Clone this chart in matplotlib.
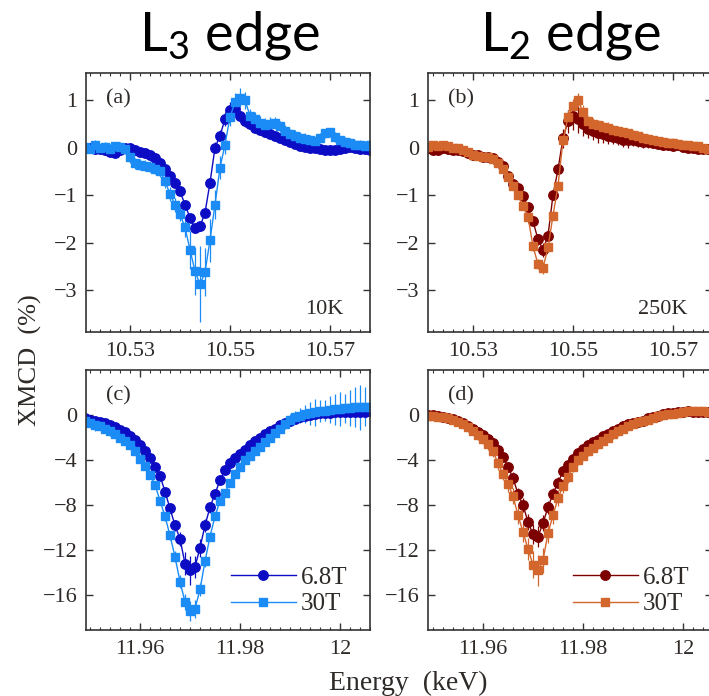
import matplotlib
matplotlib.use("Agg")
import matplotlib.pyplot as plt
from matplotlib.lines import Line2D
from matplotlib.ticker import MultipleLocator

plt.rcParams["font.family"] = ["Liberation Serif", "DejaVu Serif"]
plt.rcParams["mathtext.default"] = "regular"

# ---------------- data ----------------
# L3 edge, energies (keV)
energy_l3 = [10.521, 10.522, 10.523, 10.524, 10.525, 10.526, 10.527, 10.528, 10.529, 10.530,
             10.531, 10.532, 10.533, 10.534, 10.535, 10.536, 10.537, 10.538, 10.539, 10.540,
             10.541, 10.542, 10.543, 10.544, 10.545, 10.546, 10.547, 10.548, 10.549, 10.550,
             10.551, 10.552, 10.553, 10.554, 10.555, 10.556, 10.557, 10.558, 10.559, 10.560,
             10.561, 10.562, 10.563, 10.564, 10.565, 10.566, 10.567, 10.568, 10.569, 10.570,
             10.571, 10.572, 10.573, 10.574, 10.575, 10.576, 10.577, 10.578]
xmcd_l3_68T = [0.00, 0.00, -0.02, -0.02, -0.06, -0.10, -0.12, -0.06, -0.01, 0.00,
               -0.05, -0.09, -0.11, -0.15, -0.22, -0.32, -0.45, -0.59, -0.74, -0.92,
               -1.20, -1.48, -1.70, -1.66, -1.37, -0.74, 0.00, 0.25, 0.60, 0.80,
               0.82, 0.66, 0.56, 0.49, 0.42, 0.37, 0.32, 0.28, 0.24, 0.20,
               0.15, 0.11, 0.07, 0.04, 0.02, 0.00, -0.01, -0.03, -0.04, -0.04,
               -0.05, -0.03, -0.01, 0.01, 0.00, -0.03, -0.02, -0.05]
err_l3_68T = [0.05, 0.05, 0.05, 0.05, 0.05, 0.05, 0.05, 0.05, 0.05, 0.05,
              0.05, 0.05, 0.05, 0.05, 0.05, 0.06, 0.06, 0.06, 0.07, 0.07,
              0.08, 0.08, 0.10, 0.10, 0.10, 0.10, 0.12, 0.12, 0.15, 0.15,
              0.15, 0.12, 0.12, 0.10, 0.10, 0.10, 0.10, 0.08, 0.08, 0.08,
              0.08, 0.08, 0.07, 0.07, 0.06, 0.06, 0.06, 0.06, 0.06, 0.06,
              0.06, 0.06, 0.06, 0.06, 0.06, 0.06, 0.06, 0.06]
xmcd_l3_30T = [0.02, -0.02, 0.05, 0.00, 0.02, -0.02, 0.03, 0.01, -0.03, -0.20,
               -0.33, -0.36, -0.38, -0.40, -0.44, -0.50, -0.70, -0.98, -1.20, -1.40,
               -1.68, -2.15, -2.60, -2.88, -2.62, -1.95, -1.20, -0.42, 0.06, 0.65,
               0.95, 1.05, 1.00, 0.67, 0.60, 0.52, 0.47, 0.50, 0.52, 0.45,
               0.36, 0.28, 0.25, 0.20, 0.18, 0.15, 0.13, 0.20, 0.30, 0.32,
               0.22, 0.15, 0.12, 0.10, 0.06, 0.06, 0.03, 0.05]
err_l3_30T = [0.08, 0.10, 0.10, 0.08, 0.10, 0.10, 0.08, 0.10, 0.10, 0.12,
              0.12, 0.12, 0.12, 0.12, 0.12, 0.12, 0.15, 0.15, 0.15, 0.15,
              0.20, 0.40, 0.50, 0.80, 0.50, 0.45, 0.30, 0.25, 0.20, 0.20,
              0.20, 0.20, 0.18, 0.15, 0.15, 0.15, 0.15, 0.15, 0.12, 0.12,
              0.12, 0.12, 0.12, 0.12, 0.12, 0.12, 0.10, 0.10, 0.10, 0.10,
              0.10, 0.10, 0.10, 0.10, 0.10, 0.10, 0.10, 0.10]

# L2 edge panel (250 K)
energy_l2 = [10.521, 10.522, 10.523, 10.524, 10.525, 10.526, 10.527, 10.528, 10.529, 10.530,
             10.531, 10.532, 10.533, 10.534, 10.535, 10.536, 10.537, 10.538, 10.539, 10.540,
             10.541, 10.542, 10.543, 10.544, 10.545, 10.546, 10.547, 10.548, 10.549, 10.550,
             10.551, 10.552, 10.553, 10.554, 10.555, 10.556, 10.557, 10.558, 10.559, 10.560,
             10.561, 10.562, 10.563, 10.564, 10.565, 10.566, 10.567, 10.568, 10.569, 10.570,
             10.571, 10.572, 10.573, 10.574, 10.575, 10.576, 10.577]
xmcd_l2_68T = [0.00, -0.05, -0.05, 0.00, -0.02, -0.05, -0.05, -0.08, -0.12, -0.15,
               -0.15, -0.20, -0.20, -0.22, -0.30, -0.38, -0.60, -0.76, -0.86, -1.02,
               -1.26, -1.55, -1.93, -2.15, -1.85, -1.00, -0.46, 0.20, 0.55, 0.67,
               0.60, 0.50, 0.40, 0.35, 0.30, 0.28, 0.25, 0.22, 0.20, 0.17,
               0.15, 0.15, 0.14, 0.12, 0.12, 0.10, 0.08, 0.05, 0.05, 0.03,
               0.05, 0.02, 0.00, 0.00, -0.02, -0.02, -0.03]
err_l2_68T = [0.08, 0.08, 0.08, 0.08, 0.08, 0.08, 0.08, 0.08, 0.08, 0.08,
              0.08, 0.08, 0.08, 0.08, 0.08, 0.08, 0.08, 0.08, 0.08, 0.08,
              0.10, 0.10, 0.12, 0.15, 0.12, 0.10, 0.10, 0.20, 0.25, 0.30,
              0.30, 0.25, 0.20, 0.20, 0.20, 0.18, 0.18, 0.15, 0.15, 0.15,
              0.15, 0.12, 0.12, 0.12, 0.12, 0.10, 0.10, 0.10, 0.10, 0.10,
              0.10, 0.08, 0.08, 0.08, 0.08, 0.08, 0.08]
xmcd_l2_30T = [0.02, 0.05, 0.03, 0.05, 0.03, 0.00, 0.00, -0.05, -0.10, -0.15,
               -0.17, -0.20, -0.20, -0.25, -0.32, -0.45, -0.62, -0.80, -1.00, -1.22,
               -1.45, -2.08, -2.45, -2.53, -2.10, -1.43, -0.80, 0.15, 0.65, 0.88,
               1.00, 0.75, 0.55, 0.50, 0.47, 0.44, 0.42, 0.38, 0.35, 0.32,
               0.30, 0.27, 0.25, 0.20, 0.18, 0.15, 0.13, 0.12, 0.10, 0.10,
               0.08, 0.06, 0.05, 0.04, 0.03, 0.00, -0.02]
err_l2_30T = [0.08, 0.08, 0.08, 0.08, 0.08, 0.08, 0.08, 0.08, 0.08, 0.08,
              0.08, 0.08, 0.08, 0.08, 0.08, 0.08, 0.08, 0.08, 0.08, 0.08,
              0.10, 0.10, 0.10, 0.12, 0.10, 0.10, 0.10, 0.12, 0.15, 0.15,
              0.15, 0.15, 0.12, 0.12, 0.12, 0.12, 0.12, 0.10, 0.10, 0.10,
              0.10, 0.10, 0.10, 0.10, 0.10, 0.10, 0.10, 0.10, 0.10, 0.10,
              0.08, 0.08, 0.08, 0.08, 0.08, 0.08, 0.08]

# Lower row, K-edge region
energy_c = [11.949, 11.950, 11.951, 11.952, 11.953, 11.954, 11.955, 11.956, 11.957, 11.958,
            11.959, 11.960, 11.961, 11.962, 11.963, 11.964, 11.965, 11.966, 11.967, 11.968,
            11.969, 11.970, 11.971, 11.972, 11.973, 11.974, 11.975, 11.976, 11.977, 11.978,
            11.979, 11.980, 11.981, 11.982, 11.983, 11.984, 11.985, 11.986, 11.987, 11.988,
            11.989, 11.990, 11.991, 11.992, 11.993, 11.994, 11.995, 11.996, 11.997, 11.998,
            11.999, 12.000, 12.001, 12.002, 12.003, 12.004, 12.005, 12.006]
xmcd_c_68T = [-0.30, -0.40, -0.50, -0.60, -0.70, -0.85, -1.05, -1.30, -1.55, -1.85,
              -2.20, -2.70, -3.20, -3.85, -4.60, -5.40, -6.80, -8.30, -9.80, -11.00,
              -13.20, -13.80, -13.50, -11.80, -9.80, -8.20, -7.00, -5.80, -4.90, -4.30,
              -3.85, -3.50, -3.10, -2.70, -2.30, -2.00, -1.70, -1.45, -1.20, -0.90,
              -0.70, -0.50, -0.35, -0.20, -0.10, 0.00, 0.10, 0.15, 0.20, 0.22,
              0.25, 0.25, 0.25, 0.28, 0.30, 0.30, 0.30, 0.35]
err_c_68T = [0.20, 0.20, 0.20, 0.20, 0.20, 0.20, 0.20, 0.20, 0.20, 0.20,
             0.25, 0.25, 0.30, 0.30, 0.30, 0.30, 0.35, 0.40, 0.50, 0.60,
             1.00, 1.30, 1.00, 0.80, 0.60, 0.50, 0.40, 0.35, 0.30, 0.30,
             0.25, 0.25, 0.25, 0.25, 0.25, 0.25, 0.25, 0.25, 0.25, 0.25,
             0.25, 0.25, 0.30, 0.30, 0.30, 0.30, 0.35, 0.35, 0.40, 0.40,
             0.40, 0.45, 0.45, 0.50, 0.50, 0.50, 0.55, 0.55]
xmcd_c_30T = [-0.50, -0.70, -0.85, -1.00, -1.25, -1.45, -1.70, -2.00, -2.35, -2.70,
              -3.20, -3.90, -4.50, -5.30, -6.20, -7.60, -9.00, -10.70, -12.60, -14.80,
              -16.60, -17.40, -17.20, -15.50, -13.00, -10.80, -9.00, -7.60, -6.90, -6.00,
              -5.20, -4.60, -4.00, -3.60, -3.20, -2.80, -2.40, -2.00, -1.60, -1.20,
              -0.80, -0.40, -0.20, -0.05, 0.05, 0.15, 0.25, 0.35, 0.40, 0.45,
              0.50, 0.55, 0.60, 0.65, 0.70, 0.70, 0.75, 0.75]
err_c_30T = [0.30, 0.40, 0.60, 0.30, 0.30, 0.40, 0.30, 0.30, 0.30, 0.30,
             0.30, 0.30, 0.30, 0.30, 0.35, 0.35, 0.40, 0.40, 0.50, 0.60,
             0.70, 0.90, 0.80, 0.60, 0.50, 0.40, 0.35, 0.30, 0.30, 0.30,
             0.30, 0.30, 0.30, 0.30, 0.30, 0.30, 0.30, 0.30, 0.30, 0.30,
             0.40, 0.50, 0.60, 0.70, 0.80, 1.00, 1.20, 1.00, 0.90, 1.20,
             1.40, 1.50, 1.30, 1.60, 1.80, 2.00, 1.70, 1.90]

energy_d = [11.949, 11.950, 11.951, 11.952, 11.953, 11.954, 11.955, 11.956, 11.957, 11.958,
            11.959, 11.960, 11.961, 11.962, 11.963, 11.964, 11.965, 11.966, 11.967, 11.968,
            11.969, 11.970, 11.971, 11.972, 11.973, 11.974, 11.975, 11.976, 11.977, 11.978,
            11.979, 11.980, 11.981, 11.982, 11.983, 11.984, 11.985, 11.986, 11.987, 11.988,
            11.989, 11.990, 11.991, 11.992, 11.993, 11.994, 11.995, 11.996, 11.997, 11.998,
            11.999, 12.000, 12.001, 12.002, 12.003, 12.004, 12.005]
xmcd_d_68T = [0.00, 0.00, -0.05, -0.15, -0.25, -0.35, -0.50, -0.70, -0.95, -1.20,
              -1.50, -1.80, -2.10, -2.50, -3.10, -3.70, -4.60, -5.60, -7.00, -8.00,
              -9.50, -10.60, -10.80, -9.60, -8.20, -7.00, -6.00, -5.00, -4.40, -3.90,
              -3.40, -3.00, -2.70, -2.40, -2.20, -1.90, -1.70, -1.45, -1.20, -1.00,
              -0.80, -0.70, -0.60, -0.50, -0.30, -0.20, -0.05, 0.05, 0.15, 0.20,
              0.25, 0.30, 0.35, 0.30, 0.30, 0.30, 0.25]
err_d_68T = [0.20, 0.20, 0.25, 0.20, 0.25, 0.30, 0.25, 0.30, 0.30, 0.30,
             0.30, 0.30, 0.35, 0.35, 0.40, 0.40, 0.45, 0.50, 0.55, 0.60,
             0.70, 0.90, 0.90, 0.70, 0.60, 0.50, 0.50, 0.40, 0.40, 0.35,
             0.35, 0.35, 0.30, 0.30, 0.30, 0.30, 0.30, 0.30, 0.30, 0.30,
             0.25, 0.25, 0.25, 0.25, 0.25, 0.25, 0.25, 0.25, 0.25, 0.25,
             0.25, 0.25, 0.20, 0.20, 0.20, 0.20, 0.20]
xmcd_d_30T = [-0.10, -0.10, -0.15, -0.20, -0.30, -0.45, -0.60, -0.80, -1.10, -1.40,
              -1.80, -2.10, -2.60, -3.20, -4.30, -5.20, -6.10, -7.20, -8.90, -10.40,
              -11.90, -13.30, -13.80, -12.90, -10.50, -8.90, -7.40, -6.30, -5.50, -4.60,
              -4.00, -3.60, -3.20, -2.90, -2.60, -2.30, -2.00, -1.70, -1.45, -1.20,
              -1.00, -0.80, -0.65, -0.55, -0.40, -0.25, -0.10, 0.00, 0.05, 0.10,
              0.20, 0.30, 0.35, 0.40, 0.40, 0.35, 0.30]
err_d_30T = [0.20, 0.20, 0.30, 0.30, 0.30, 0.30, 0.35, 0.35, 0.40, 0.40,
             0.40, 0.45, 0.50, 0.50, 0.60, 0.60, 0.70, 0.70, 0.80, 0.90,
             1.00, 1.20, 1.40, 1.10, 0.90, 0.80, 0.70, 0.60, 0.50, 0.50,
             0.40, 0.40, 0.40, 0.40, 0.40, 0.40, 0.40, 0.40, 0.40, 0.40,
             0.30, 0.30, 0.30, 0.30, 0.30, 0.30, 0.30, 0.30, 0.30, 0.30,
             0.30, 0.30, 0.30, 0.30, 0.30, 0.30, 0.30]

top_xticks = [10.53, 10.55, 10.57]
top_xticklabels = ["10.53", "10.55", "10.57"]
bot_xticks = [11.96, 11.98, 12.0]
bot_xticklabels = ["11.96", "11.98", "12"]
top_yticks = [1, 0, -1, -2, -3]
bot_yticks = [0, -4, -8, -12, -16]
field_labels = ["6.8T", "30T"]

# ---------------- styling ----------------
blue_dark = "#0c0cc4"
blue_light = "#1b8cf5"
red_dark = "#7d0000"
orange = "#d2662c"
text_col = "#2e2a28"
MS_CIRCLE = 6.8
MS_SQUARE = 5.8

W, H = 709, 696
fig = plt.figure(figsize=(W / 100, H / 100), dpi=100)


def add_panel(left, top, width, height):
    return fig.add_axes([left / W, 1 - (top + height) / H, width / W, height / H])


ax_a = add_panel(86, 73, 284, 259)
ax_b = add_panel(428, 73, 284, 259)
ax_c = add_panel(86, 370, 284, 260)
ax_d = add_panel(428, 370, 284, 260)


def draw_series(ax, x, y, err, color, marker, ms):
    ax.errorbar(x, y, yerr=err, color=color, marker=marker, ms=ms, mec=color,
                mfc=color, lw=1.0, elinewidth=0.9, capsize=0)


draw_series(ax_a, energy_l3, xmcd_l3_68T, err_l3_68T, blue_dark, "o", MS_CIRCLE)
draw_series(ax_a, energy_l3, xmcd_l3_30T, err_l3_30T, blue_light, "s", MS_SQUARE)
draw_series(ax_b, energy_l2, xmcd_l2_68T, err_l2_68T, red_dark, "o", MS_CIRCLE)
draw_series(ax_b, energy_l2, xmcd_l2_30T, err_l2_30T, orange, "s", MS_SQUARE)
draw_series(ax_c, energy_c, xmcd_c_68T, err_c_68T, blue_dark, "o", MS_CIRCLE)
draw_series(ax_c, energy_c, xmcd_c_30T, err_c_30T, blue_light, "s", MS_SQUARE)
draw_series(ax_d, energy_d, xmcd_d_68T, err_d_68T, red_dark, "o", MS_CIRCLE)
draw_series(ax_d, energy_d, xmcd_d_30T, err_d_30T, orange, "s", MS_SQUARE)

ax_a.set_xlim(10.5212, 10.578)
ax_b.set_xlim(10.521, 10.5778)
ax_c.set_xlim(11.9492, 12.006)
ax_d.set_xlim(11.949, 12.0058)
for ax in (ax_a, ax_b):
    ax.set_ylim(-3.88, 1.57)
    ax.set_xticks(top_xticks)
    ax.set_xticklabels(top_xticklabels)
    ax.set_yticks(top_yticks)
for ax in (ax_c, ax_d):
    ax.set_ylim(-19.1, 4.0)
    ax.set_xticks(bot_xticks)
    ax.set_xticklabels(bot_xticklabels)
    ax.set_yticks(bot_yticks)

for ax in (ax_a, ax_b, ax_c, ax_d):
    ax.xaxis.set_minor_locator(MultipleLocator(0.002))
    ax.tick_params(which="both", direction="in", top=True, right=True,
                   colors="#333333", labelcolor=text_col, labelsize=16)
    ax.tick_params(which="major", length=5, width=1.0, pad=7)
    ax.tick_params(which="minor", length=2.5, width=0.8)
    ax.tick_params(axis="y", which="major", pad=6)
    for sp in ax.spines.values():
        sp.set_color("#333333")
        sp.set_linewidth(1.2)

for ax, lab in zip((ax_a, ax_b, ax_c, ax_d), ("(a)", "(b)", "(c)", "(d)")):
    ax.text(0.07, 0.9, lab, transform=ax.transAxes, fontsize=16, color=text_col,
            ha="left", va="center")
ax_a.text(0.905, 0.085, "10K", transform=ax_a.transAxes, fontsize=16,
          color=text_col, ha="right", va="center")
ax_b.text(0.915, 0.085, "250K", transform=ax_b.transAxes, fontsize=16,
          color=text_col, ha="right", va="center")

# legends without error-bar stubs
for ax, (c_lo, c_hi) in ((ax_c, (blue_dark, blue_light)), (ax_d, (red_dark, orange))):
    handles = [Line2D([], [], color=c_lo, marker="o", ms=MS_CIRCLE, lw=1.0),
               Line2D([], [], color=c_hi, marker="s", ms=MS_SQUARE, lw=1.0)]
    ax.legend(handles, field_labels, loc="lower right", bbox_to_anchor=(1.0, -0.03),
              frameon=False, fontsize=18, numpoints=1, handlelength=2.6,
              handletextpad=0.2, labelspacing=0.15, labelcolor=text_col)

fig.text(30 / W, 1 - 360 / H, "XMCD  (%)", rotation=90, fontsize=19,
         color=text_col, ha="center", va="center")
fig.text(408 / W, 1 - 683 / H, "Energy  (keV)", fontsize=20,
         color=text_col, ha="center", va="center")

fig.text(230 / W, 1 - 50 / H, "L$_3$ edge", fontsize=39, family="Lato",
         ha="center", va="baseline", color="black")
fig.text(571 / W, 1 - 50 / H, "L$_2$ edge", fontsize=39, family="Lato",
         ha="center", va="baseline", color="black")

fig.savefig("out.png", dpi=100)
